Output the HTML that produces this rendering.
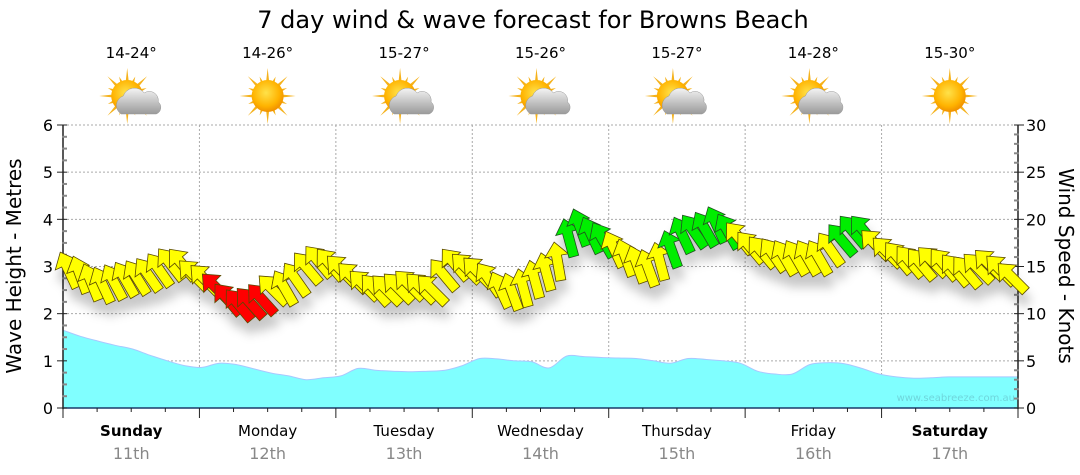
<!DOCTYPE html>
<html><head><meta charset="utf-8">
<style>
body{margin:0;background:#fff;width:1080px;height:475px;overflow:hidden;font-family:"Liberation Sans",sans-serif}
svg{display:block}
text{font-family:"DejaVu Sans","Liberation Sans",sans-serif}
</style></head>
<body>
<svg id="chart" width="1080" height="475" viewBox="0 0 1080 475" xmlns="http://www.w3.org/2000/svg">
<defs>
<filter id="shadow" x="-20%" y="-20%" width="140%" height="160%"><feDropShadow dx="2" dy="12" stdDeviation="5" flood-color="#000" flood-opacity="0.22"/></filter>
<radialGradient id="sunG" cx="45%" cy="40%" r="60%"><stop offset="0" stop-color="#ffe24a"/><stop offset="0.7" stop-color="#ffb300"/><stop offset="1" stop-color="#f09000"/></radialGradient>
<linearGradient id="cloudG" x1="0" y1="0" x2="0" y2="1"><stop offset="0" stop-color="#f4f4f4"/><stop offset="1" stop-color="#9a9a9a"/></linearGradient>
</defs>
<text x="533" y="28" font-size="24" text-anchor="middle" fill="#000">7 day wind &amp; wave forecast for Browns Beach</text>
<text transform="translate(21,266) rotate(-90)" font-size="20" text-anchor="middle">Wave Height - Metres</text>
<text transform="translate(1059,266) rotate(90)" font-size="20" text-anchor="middle">Wind Speed - Knots</text>
<g id="grid"></g>
<g id="wave"></g>
<text x="1015" y="401" font-size="10" text-anchor="end" fill="#6fd6dc">www.seabreeze.com.au</text>
<g id="axes"></g>
<g id="wind" filter="url(#shadow)"></g>
<g id="weather"></g>
<g id="days"></g>
</svg>
<script>
const days=["Sunday","Monday","Tuesday","Wednesday","Thursday","Friday","Saturday"];
const dates=["11th","12th","13th","14th","15th","16th","17th"];
const boldDays=[true,false,false,false,false,false,true];
const temps=["14-24°","14-26°","15-27°","15-26°","15-27°","14-28°","15-30°"];
const cloudy=[true,false,true,true,true,true,false];
const waveTicks=[0,1,2,3,4,5,6];
const windTicks=[0,5,10,15,20,25,30];
// wave height (m), 8 samples per day
const waveHeight=[1.65,1.52,1.42,1.33,1.25,1.12,1.0,0.9,0.86,0.95,0.92,0.83,0.74,0.68,0.6,0.64,
0.68,0.84,0.8,0.78,0.77,0.78,0.8,0.9,1.05,1.04,1.0,0.98,0.85,1.1,1.09,1.07,
1.06,1.05,1.0,0.95,1.05,1.03,1.0,0.95,0.78,0.72,0.72,0.92,0.96,0.94,0.84,0.72,
0.66,0.63,0.64,0.66,0.66,0.66,0.66,0.66];
// wind speed (knots), 12 samples per day
const windSpeed=[14.6,14.1,13.3,13.0,13.3,13.6,13.8,14.1,14.6,15.2,15.2,14.1,
13.6,12.7,11.5,10.9,11.1,11.5,12.5,12.7,13.6,14.8,15.5,15.2,
14.6,13.8,13.0,12.5,12.5,12.7,13.0,12.7,12.5,14.1,15.2,14.8,
14.4,13.6,12.5,12.3,12.7,13.6,14.4,15.5,18.0,19.1,18.3,17.8,
16.8,15.9,15.2,14.8,15.5,16.8,18.3,18.7,18.9,19.4,18.7,18.0,
17.0,16.5,16.2,15.9,15.9,15.9,15.9,16.8,17.8,18.7,18.7,17.3,
16.5,15.9,15.5,15.2,15.5,15.2,14.6,14.4,14.8,15.2,14.6,13.8];
// direction arrow points to (deg clockwise from up)
const windDir=[-25,-20,-22,-25,-28,-30,-32,-35,-35,-38,-40,-45,
-45,-45,-40,-40,-42,-42,-45,-30,-35,-40,-40,-40,
-45,-45,-45,-42,-45,-45,-45,-45,-45,-40,-40,-45,
-45,-35,-25,-20,-15,-15,-15,-10,-15,-20,-25,-30,
-25,-20,-20,-20,-15,-20,-25,-35,-30,-25,-30,-40,
-40,-40,-35,-30,-30,-30,-30,-35,-40,-40,-40,-45,
-45,-40,-40,-40,-45,-40,-40,-40,-45,-45,-45,-45];
// colour class: 0 yellow, 1 red, 2 green
const windClass=[0,0,0,0,0,0,0,0,0,0,0,0,
0,1,1,1,1,1,0,0,0,0,0,0,
0,0,0,0,0,0,0,0,0,0,0,0,
0,0,0,0,0,0,0,0,2,2,2,2,
0,0,0,0,0,2,2,2,2,2,2,0,
0,0,0,0,0,0,0,0,2,2,2,0,
0,0,0,0,0,0,0,0,0,0,0,0];

const NS="http://www.w3.org/2000/svg";
const X0=63,X1=1018,Y0=408,Y1=125;
const dayW=(X1-X0)/7;
const yW=v=>Y0-(v/6)*(Y0-Y1);
const yK=v=>Y0-(v/30)*(Y0-Y1);
const xAt=(i,n)=>X0+(i+0.5)*dayW/n;
function mk(tag,attrs,parent){const e=document.createElementNS(NS,tag);for(const k in attrs)e.setAttribute(k,attrs[k]);parent.appendChild(e);return e;}
const grid=document.getElementById('grid'),axes=document.getElementById('axes');
waveTicks.forEach((t,i)=>{if(t>0){const l=mk('line',{x1:X0,x2:X1,y1:yW(t),y2:yW(t),stroke:'#aaa','stroke-dasharray':'2,2'},grid);

}});
for(let d=1;d<7;d++){const l=mk('line',{x1:X0+d*dayW,x2:X0+d*dayW,y1:Y1,y2:Y0,stroke:'#aaa','stroke-dasharray':'2,2'},grid);

}
// wave area (Catmull-Rom smoothing)
const wg=document.getElementById('wave');
const n=waveHeight.length;
const pts=waveHeight.map((v,i)=>[X0+i*(X1-X0)/(n-1),yW(v)]);
let d='M'+X0+','+Y0+' L'+pts[0][0]+','+pts[0][1].toFixed(1);
for(let i=0;i<n-1;i++){const p0=pts[Math.max(0,i-1)],p1=pts[i],p2=pts[i+1],p3=pts[Math.min(n-1,i+2)];
const c1x=p1[0]+(p2[0]-p0[0])/6,c1y=p1[1]+(p2[1]-p0[1])/6,c2x=p2[0]-(p3[0]-p1[0])/6,c2y=p2[1]-(p3[1]-p1[1])/6;
d+=` C${c1x.toFixed(1)},${c1y.toFixed(1)} ${c2x.toFixed(1)},${c2y.toFixed(1)} ${p2[0].toFixed(1)},${p2[1].toFixed(1)}`;}
d+=' L'+X1+','+Y0+' Z';
const wa=mk('path',{d:d,fill:'#80ffff',stroke:'#a8c8ff','stroke-width':1},wg);


// axes
mk('line',{x1:X0,x2:X0,y1:Y1,y2:Y0+1,stroke:'#222','stroke-width':1.5},axes);
mk('line',{x1:X1,x2:X1,y1:Y1,y2:Y0+1,stroke:'#222','stroke-width':1.5},axes);
mk('line',{x1:X0,x2:X1,y1:Y0,y2:Y0,stroke:'#1a3a6a','stroke-width':1.5},axes);
for(let v=0;v<=24;v++){const y=yW(v/4);mk('line',{x1:v%4?X0-1:X0-6,x2:X0+4,y1:y,y2:y,stroke:v%4?'#888':'#222','stroke-width':v%4?2:1},axes);}
for(let v=0;v<=30;v++){const y=yK(v);mk('line',{x1:X1-4,x2:v%5?X1+1:X1+6,y1:y,y2:y,stroke:v%5?'#888':'#222','stroke-width':v%5?2:1},axes);}
waveTicks.forEach(t=>{const e=mk('text',{x:X0-10,y:yW(t)+6,'font-size':16,'text-anchor':'end'},axes);e.textContent=t;

});
windTicks.forEach(t=>{const e=mk('text',{x:X1+8,y:yK(t)+6,'font-size':16},axes);e.textContent=t;

});
for(let q=0;q<=28;q++){const x=X0+q*dayW/4;mk('line',{x1:x,x2:x,y1:Y0,y2:q%4?Y0+4:Y0+10,stroke:'#222','stroke-width':1},axes);}
// wind arrows
const colors=['#ffff00','#ff0000','#00ee00'];
const wind=document.getElementById('wind');
const arrowPath='M0,-20 L12,-6 L5,-6 L5,19 L-5,19 L-5,-6 L-12,-6 Z';
windSpeed.forEach((s,i)=>{const x=xAt(i,12),y=yK(s);
const p=mk('path',{d:arrowPath,transform:`translate(${x.toFixed(1)},${y.toFixed(1)}) rotate(${windDir[i]})`,fill:colors[windClass[i]],stroke:windClass[i]===2?'#205020':'#5a4a00','stroke-width':0.8},wind);

});
// weather
const wr=document.getElementById('weather');
temps.forEach((t,i)=>{const cx=X0+(i+0.5)*dayW;
const tt=mk('text',{x:cx,y:58,'font-size':15,'text-anchor':'middle'},wr);tt.textContent=t;


const g=mk('g',{},wr);


const sx=cloudy[i]?cx-4:cx,sy=96;
for(let r=0;r<16;r++){const a=r*Math.PI/8,L=r%2?21:28;
mk('polygon',{points:`${sx+Math.cos(a-0.13)*13},${sy+Math.sin(a-0.13)*13} ${sx+Math.cos(a)*L},${sy+Math.sin(a)*L} ${sx+Math.cos(a+0.13)*13},${sy+Math.sin(a+0.13)*13}`,fill:'#f5b21c'},g);}
mk('circle',{cx:sx,cy:sy,r:16,fill:'url(#sunG)'},g);
if(cloudy[i]){mk('path',{d:`M${cx-10},${sy+18} a10,10 0 0 1 2,-18 a12,12 0 0 1 21,-3 a9,9 0 0 1 14,9 a7,7 0 0 1 -2,12 Z`,fill:'url(#cloudG)',stroke:'#999','stroke-width':0.5},g);}
});
// day labels
const dg=document.getElementById('days');
days.forEach((n,i)=>{const cx=X0+(i+0.5)*dayW;
const a=mk('text',{x:cx,y:436,'font-size':15,'text-anchor':'middle','font-weight':boldDays[i]?'bold':'normal'},dg);a.textContent=n;


const b=mk('text',{x:cx,y:459,'font-size':16,'text-anchor':'middle',fill:'#888'},dg);b.textContent=dates[i];

});
</script>
</body></html>
